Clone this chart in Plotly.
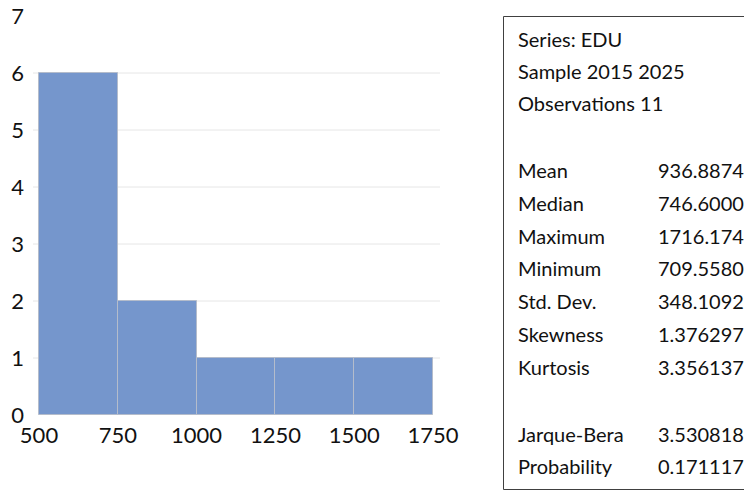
import plotly.graph_objects as go

bin_left = [500, 750, 1000, 1250, 1500]
bin_width = 250
counts = [6, 2, 1, 1, 1]
x_ticks = [500, 750, 1000, 1250, 1500, 1750]
y_ticks = [0, 1, 2, 3, 4, 5, 6, 7]

header_lines = ["Series: EDU", "Sample 2015 2025", "Observations 11"]
stat_labels = ["Mean", "Median", "Maximum", "Minimum", "Std. Dev.", "Skewness", "Kurtosis"]
stat_values = ["936.8874", "746.6000", "1716.174", "709.5580", "348.1092", "1.376297", "3.356137"]
test_labels = ["Jarque-Bera", "Probability"]
test_values = ["3.530818", "0.171117"]

# page body has an 8px default margin; work in screen pixels and offset
OFF = 8
W, H = 752 - OFF, 493 - OFF
FONT = "Lato"

centers = [b + bin_width / 2 for b in bin_left]

fig = go.Figure()
fig.add_trace(go.Bar(
    x=centers, y=counts, width=[bin_width] * len(counts),
    marker=dict(color="#7596CC", line=dict(color="#B4BCCB", width=1)),
    showlegend=False, hoverinfo="skip"))

# plot area in screen pixels
L, R, T, B = 33, 440, 16, 415
ml, mr = L - OFF, (W + OFF) - R
mt, mb = T - OFF, (H + OFF) - B
px_per = 394 / 1250
xr0 = 500 - (39 - L) / px_per
xr1 = 1750 + (R - 433) / px_per

fig.update_layout(
    width=W, height=H,
    margin=dict(l=ml, r=mr, t=mt, b=mb, autoexpand=False),
    paper_bgcolor="white", plot_bgcolor="white",
    font=dict(family=FONT, color="#111111"),
    xaxis=dict(range=[xr0, xr1], tickvals=x_ticks, ticktext=[str(v) for v in x_ticks],
               showgrid=False, zeroline=False, showline=False, ticks="",
               tickfont=dict(size=22, family=FONT), ticklabelstandoff=5,
               automargin=False, ticklabeloverflow="allow"),
    yaxis=dict(range=[0, 7], tickvals=y_ticks, showgrid=False, zeroline=False,
               showline=False, ticks="", tickfont=dict(size=22, family=FONT),
               ticklabelstandoff=8, automargin=False, ticklabeloverflow="allow"),
    bargap=0,
)

# light horizontal gridlines (1..6)
for v in y_ticks[1:-1]:
    fig.add_shape(type="line", xref="paper", yref="y", x0=0, x1=1, y0=v, y1=v,
                  line=dict(color="#E6E6E6", width=1), layer="below")

# screen pixel -> paper coords
def px(x):
    return (x - L) / (R - L)
def py(y):
    return (B - y) / (B - T)

fig.add_shape(type="rect", xref="paper", yref="paper",
              x0=px(503.5), x1=px(770), y0=py(489.5), y1=py(16.5),
              line=dict(color="#404040", width=1))

fs = 20
def label(x, y, t, anchor):
    fig.add_annotation(xref="paper", yref="paper", x=px(x), y=py(y), text=t,
                       showarrow=False, xanchor=anchor, yanchor="middle",
                       font=dict(size=fs, family=FONT, color="#111111"))

for i, t in enumerate(header_lines):
    label(516, 39 + 32 * i, t, "left")
for i, (l, v) in enumerate(zip(stat_labels, stat_values)):
    y = 170 + 32.8 * i
    label(516, y, l, "left")
    label(746, y, v, "right")
for i, (l, v) in enumerate(zip(test_labels, test_values)):
    y = 434 + 32 * i
    label(516, y, l, "left")
    label(746, y, v, "right")

fig.write_html("out.html")
